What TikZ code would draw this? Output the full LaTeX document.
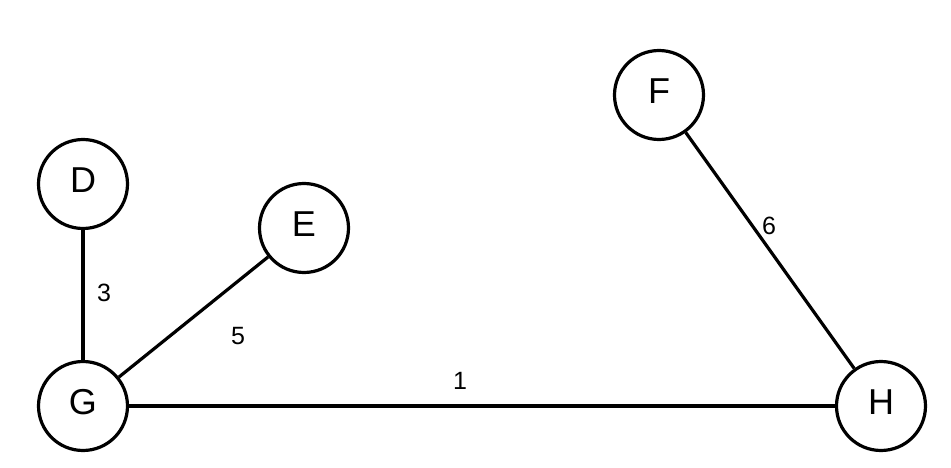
\documentclass[tikz,border=0pt]{standalone}
\usepackage{fontspec}
\setmainfont{Liberation Sans}
\begin{document}
\begin{tikzpicture}[x=1pt,y=-1pt,
  vertex/.style={circle,draw=black,line width=3.2pt,minimum size=89pt,inner sep=0pt,font=\fontsize{36}{36}\selectfont},
  vlabel/.style={font=\fontsize{36}{36}\selectfont,inner sep=0pt},
  edge/.style={draw=black,line width=3.2pt},
  wlabel/.style={font=\fontsize{25}{25}\selectfont,inner sep=0pt}]
\useasboundingbox (0,0) rectangle (951,468);
\node[vertex] (D) at (83,184) {};
\node[vertex] (E) at (304,228) {};
\node[vertex] (F) at (659,95) {};
\node[vertex] (G) at (83,406) {};
\node[vertex] (H) at (881,406) {};
\node[vlabel] (tD) at (83,180) {D};
\node[vlabel] (tE) at (304,224) {E};
\node[vlabel] (tF) at (659,91) {F};
\node[vlabel] (tG) at (83,402) {G};
\node[vlabel] (tH) at (881,402) {H};
\draw[edge] (D) -- (G);
\draw[edge] (E) -- (G);
\draw[edge] (G) -- (H);
\draw[edge] (F) -- (H);
\node[wlabel] (l3) at (104,293) {3};
\node[wlabel] (l5) at (238,336) {5};
\node[wlabel] (l1) at (460,381) {1};
\node[wlabel] (l6) at (769,226) {6};
\end{tikzpicture}
\end{document}
